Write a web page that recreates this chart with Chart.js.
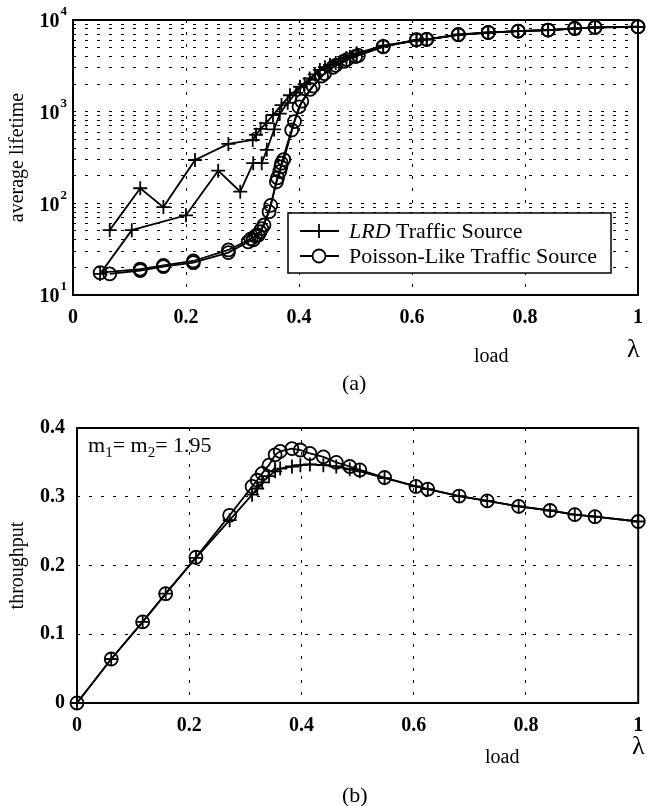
<!DOCTYPE html>
<html>
<head>
<meta charset="utf-8">
<script src="https://cdn.jsdelivr.net/npm/chart.js@4.4.1/dist/chart.umd.min.js"></script>
<style>
  body { margin: 0; background: #fff; }
  #page { position: relative; width: 647px; height: 806px; font-family: "Liberation Serif", "Times New Roman", serif; color: #000; }
  canvas { position: absolute; left: 0; }
  .lbl { position: absolute; white-space: nowrap; line-height: 1; }
  .lbl sub { font-size: 15px; vertical-align: -5px; line-height: 0; }
</style>
</head>
<body>
<div id="page">
  <canvas id="lifeCanvas" width="647" height="400" style="top:0"></canvas>
  <canvas id="tpCanvas" width="647" height="406" style="top:400px"></canvas>

  <div class="lbl" style="left:474px;top:345px;font-size:20px">load</div>
  <div class="lbl" style="left:627px;top:336px;font-size:26px">λ</div>
  <div class="lbl" style="left:342px;top:372px;font-size:22px">(a)</div>

  <div class="lbl" style="left:88px;top:434px;font-size:22px">m<sub>1</sub>= m<sub>2</sub>= 1.95</div>
  <div class="lbl" style="left:485px;top:746px;font-size:20px">load</div>
  <div class="lbl" style="left:632px;top:733px;font-size:26px">λ</div>
  <div class="lbl" style="left:342px;top:784px;font-size:22px">(b)</div>
</div>

<script>
// (a) average lifetime vs load, two runs per traffic source
const loadLrdA = [0.065, 0.119, 0.160, 0.216, 0.275, 0.318, 0.324, 0.332, 0.342, 0.354, 0.369, 0.384, 0.402, 0.419, 0.437, 0.455, 0.473, 0.490, 0.502, 0.549, 0.608, 0.626, 0.682, 0.735, 0.788, 0.841, 0.888, 0.924, 1.0];
const lifeLrdA = [51, 146, 91, 297, 445, 491, 560, 650, 750, 920, 1180, 1510, 1870, 2300, 2850, 3230, 3510, 3980, 4330, 5250, 6000, 6150, 6900, 7300, 7550, 7750, 8050, 8300, 8400];

const loadLrdB = [0.048, 0.104, 0.200, 0.257, 0.296, 0.319, 0.334, 0.343, 0.356, 0.366, 0.380, 0.395, 0.410, 0.428, 0.446, 0.465, 0.484, 0.502, 0.549, 0.608, 0.626, 0.682, 0.735, 0.788, 0.841, 0.888, 0.924, 1.0];
const lifeLrdB = [17, 51, 74, 227, 134, 274, 274, 383, 640, 950, 1250, 1600, 2000, 2550, 3050, 3400, 3850, 4250, 5200, 5950, 6100, 6900, 7280, 7550, 7750, 8050, 8280, 8400];

const loadPoisA = [0.065, 0.119, 0.160, 0.213, 0.275, 0.310, 0.319, 0.328, 0.334, 0.347, 0.360, 0.366, 0.369, 0.387, 0.400, 0.420, 0.440, 0.460, 0.480, 0.500, 0.549, 0.608, 0.626, 0.682, 0.735, 0.788, 0.841, 0.888, 0.924, 1.0];
const lifePoisA = [17, 18.5, 20.4, 22.5, 29, 38, 40, 45, 53, 81, 172, 222, 274, 631, 1130, 1750, 2450, 3050, 3550, 4000, 5100, 6100, 6150, 6950, 7320, 7580, 7770, 8110, 8320, 8450];

const loadPoisB = [0.048, 0.119, 0.160, 0.213, 0.275, 0.315, 0.323, 0.331, 0.338, 0.350, 0.362, 0.368, 0.373, 0.392, 0.405, 0.425, 0.445, 0.465, 0.485, 0.505, 0.549, 0.608, 0.626, 0.682, 0.735, 0.788, 0.841, 0.888, 0.924, 1.0];
const lifePoisB = [17.5, 19.2, 21, 23.5, 31, 41, 44, 49, 58, 95, 190, 250, 300, 780, 1300, 1900, 2600, 3200, 3700, 4100, 5150, 6050, 6150, 6900, 7300, 7560, 7760, 8080, 8300, 8450];

const lifeTickValues = [10, 100, 1000, 10000];
const lifeTickExps = ['1', '2', '3', '4'];

// (b) throughput vs load
const loadTp = [0, 0.061, 0.117, 0.158, 0.212, 0.272, 0.312, 0.321, 0.330, 0.342, 0.353, 0.362, 0.383, 0.398, 0.415, 0.439, 0.462, 0.486, 0.504, 0.548, 0.604, 0.625, 0.681, 0.731, 0.787, 0.843, 0.887, 0.923, 1.0];
const tpPois = [0, 0.064, 0.118, 0.159, 0.212, 0.273, 0.315, 0.324, 0.334, 0.346, 0.361, 0.366, 0.370, 0.368, 0.363, 0.358, 0.350, 0.344, 0.339, 0.328, 0.315, 0.311, 0.301, 0.294, 0.286, 0.280, 0.274, 0.271, 0.264];
const tpLrd = [0, 0.064, 0.118, 0.159, 0.211, 0.266, 0.303, 0.312, 0.321, 0.330, 0.337, 0.341, 0.344, 0.346, 0.347, 0.346, 0.344, 0.340, 0.337, 0.327, 0.315, 0.311, 0.301, 0.294, 0.286, 0.280, 0.274, 0.271, 0.264];

const legendNames = [['LRD', ' Traffic Source'], ['', 'Poisson-Like Traffic Source']];

const serif = '"Liberation Serif", "Times New Roman", serif';

// minor grid for the log axis: 1..9 x each decade
const lifeGrid = [];
for (let d = 10; d < 10000; d *= 10) {
  for (let k = 1; k < 10; k++) lifeGrid.push(k * d);
}
lifeGrid.push(10000);

function pts(xs, ys) {
  return xs.map((x, i) => ({ x: x, y: ys[i] }));
}

function series(xs, ys, style) {
  return {
    data: pts(xs, ys),
    showLine: true,
    borderColor: '#000',
    borderWidth: 1.8,
    pointStyle: style,
    pointRadius: style === 'cross' ? 7 : 6.5,
    pointBorderWidth: 1.8,
    pointBorderColor: '#000',
    pointBackgroundColor: 'rgba(0,0,0,0)',
    clip: false
  };
}

const fmt = v => String(Math.round(v * 10) / 10);

// keep the plot box fixed, labels may hang into the margin
function fixX(h) {
  return function (s) {
    s.height = h;
    s.paddingLeft = 0;
    s.paddingRight = 0;
  };
}
function fixY(w) {
  return function (s) {
    s.width = w;
    s.paddingTop = 0;
    s.paddingBottom = 0;
  };
}

const frame = {
  id: 'frame',
  afterDraw(chart) {
    const { ctx, chartArea: a } = chart;
    ctx.save();
    ctx.strokeStyle = '#000';
    ctx.lineWidth = 2;
    ctx.strokeRect(a.left, a.top, a.right - a.left, a.bottom - a.top);
    ctx.restore();
  }
};

// "10" with a raised exponent at each decade of the log axis
const powLabels = {
  id: 'powLabels',
  afterDraw(chart) {
    const ctx = chart.ctx;
    const y = chart.scales.y;
    ctx.save();
    ctx.fillStyle = '#000';
    ctx.textBaseline = 'middle';
    lifeTickValues.forEach((v, i) => {
      const py = y.getPixelForValue(v) + 2;
      ctx.font = 'bold 13px ' + serif;
      ctx.textAlign = 'right';
      const right = y.right - 6;
      ctx.fillText(lifeTickExps[i], right, py - 10);
      const ew = ctx.measureText(lifeTickExps[i]).width;
      ctx.font = 'bold 20px ' + serif;
      ctx.fillText('10', right - ew - 1, py);
    });
    ctx.restore();
  }
};

const legendBox = {
  id: 'legendBox',
  afterDraw(chart) {
    const ctx = chart.ctx;
    ctx.save();
    ctx.fillStyle = '#fff';
    ctx.fillRect(288, 213, 323, 60);
    ctx.strokeStyle = '#000';
    ctx.lineWidth = 1.5;
    ctx.strokeRect(288, 213, 323, 60);
    ctx.lineWidth = 1.8;
    legendNames.forEach((parts, i) => {
      const y = 231 + i * 25;
      ctx.beginPath();
      ctx.moveTo(300, y);
      ctx.lineTo(339, y);
      if (i === 0) {
        ctx.moveTo(319, y - 7);
        ctx.lineTo(319, y + 7);
      }
      ctx.stroke();
      if (i === 1) {
        ctx.fillStyle = '#fff';
        ctx.beginPath();
        ctx.arc(319, y, 6.5, 0, Math.PI * 2);
        ctx.fill();
        ctx.stroke();
      }
      ctx.fillStyle = '#000';
      ctx.textBaseline = 'alphabetic';
      let x = 349;
      if (parts[0]) {
        ctx.font = 'italic 22px ' + serif;
        ctx.fillText(parts[0], x, y + 7);
        x += ctx.measureText(parts[0]).width;
      }
      ctx.font = '22px ' + serif;
      ctx.fillText(parts[1], x, y + 7);
    });
    ctx.restore();
  }
};

const tickFont = { family: serif, size: 20, weight: 'bold' };
const titleFont = { family: serif, size: 20 };
const gridOpts = { color: '#000', lineWidth: 1, drawTicks: false };
const dashOpts = { display: false, dash: [3, 9] };

new Chart(document.getElementById('lifeCanvas'), {
  type: 'scatter',
  data: {
    datasets: [
      series(loadLrdA, lifeLrdA, 'cross'),
      series(loadLrdB, lifeLrdB, 'cross'),
      series(loadPoisA, lifePoisA, 'circle'),
      series(loadPoisB, lifePoisB, 'circle')
    ]
  },
  options: {
    responsive: false,
    animation: false,
    events: [],
    layout: { padding: { top: 20, right: 9, left: 0, bottom: 0 } },
    plugins: { legend: { display: false }, tooltip: { enabled: false } },
    scales: {
      x: {
        type: 'linear', min: 0, max: 1,
        afterFit: fixX(105),
        ticks: { stepSize: 0.2, padding: 11, color: '#000', font: tickFont, callback: fmt },
        grid: gridOpts,
        border: dashOpts
      },
      y: {
        type: 'logarithmic', min: 10, max: 10000,
        afterFit: fixY(73),
        afterBuildTicks(s) { s.ticks = lifeGrid.map(v => ({ value: v })); },
        ticks: { autoSkip: false, padding: 5, color: '#000', font: tickFont, callback: () => '' },
        grid: gridOpts,
        border: dashOpts,
        title: { display: true, text: 'average lifetime', color: '#000', font: titleFont, padding: { top: 6, bottom: 0 } }
      }
    }
  },
  plugins: [frame, powLabels, legendBox]
});

new Chart(document.getElementById('tpCanvas'), {
  type: 'scatter',
  data: {
    datasets: [
      series(loadTp, tpLrd, 'cross'),
      series(loadTp, tpPois, 'circle')
    ]
  },
  options: {
    responsive: false,
    animation: false,
    events: [],
    layout: { padding: { top: 28, right: 5, left: 0, bottom: 0 } },
    plugins: { legend: { display: false }, tooltip: { enabled: false } },
    scales: {
      x: {
        type: 'linear', min: 0, max: 1,
        afterFit: fixX(103),
        ticks: { stepSize: 0.2, padding: 11, color: '#000', font: tickFont, callback: fmt },
        grid: gridOpts,
        border: dashOpts
      },
      y: {
        type: 'linear', min: 0, max: 0.4,
        afterFit: fixY(77),
        ticks: { stepSize: 0.1, padding: 12, color: '#000', font: tickFont, callback: fmt },
        grid: gridOpts,
        border: dashOpts,
        title: { display: true, text: 'throughput', color: '#000', font: titleFont, padding: { top: 6, bottom: 0 } }
      }
    }
  },
  plugins: [frame]
});
</script>
</body>
</html>
